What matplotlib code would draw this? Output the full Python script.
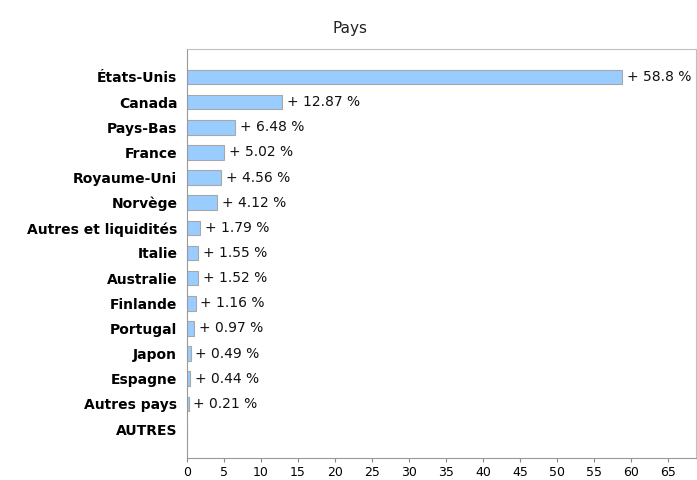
import matplotlib.pyplot as plt

# Répartition par pays (en %)
pays = ["États-Unis", "Canada", "Pays-Bas", "France", "Royaume-Uni", "Norvège",
        "Autres et liquidités", "Italie", "Australie", "Finlande", "Portugal",
        "Japon", "Espagne", "Autres pays", "AUTRES"]
poids = [58.8, 12.87, 6.48, 5.02, 4.56, 4.12, 1.79, 1.55, 1.52, 1.16, 0.97,
         0.49, 0.44, 0.21, None]
graduations = list(range(0, 70, 5))

fig = plt.figure(figsize=(6.97, 4.8), dpi=100)
ax = fig.add_axes([187 / 697, 22 / 480, 509 / 697, 409 / 480])

y = list(range(len(pays)))
largeurs = [p if p is not None else 0 for p in poids]
ax.barh(y, largeurs, height=0.58, color="#99ccff", edgecolor="#a8a8a8", linewidth=0.8)

for yi, p in zip(y, poids):
    if p is None:
        continue
    ax.annotate("+ {:g} %".format(p), xy=(p, yi), xytext=(3.5, 0), textcoords="offset points",
                va="center", ha="left", fontsize=10, color="#111111")

ax.set_xlim(0, 68.8)
ax.set_ylim(len(pays) - 1 + 1.15, -1.11)
ax.set_xticks(graduations)
ax.set_yticks(y)
ax.set_yticklabels(pays, fontweight="bold", fontsize=10)
ax.tick_params(axis="y", length=0, pad=7)
ax.tick_params(axis="x", length=3, width=0.8, color="#888888", labelsize=9, pad=3)

for s in ax.spines.values():
    s.set_color("#c0c0c0")
    s.set_linewidth(0.8)
ax.spines["left"].set_color("#999999")
ax.spines["bottom"].set_color("#999999")

fig.text(0.502, 0.94, "Pays", ha="center", va="center", fontsize=11, color="#222222")

fig.savefig("out.png", dpi=100)
